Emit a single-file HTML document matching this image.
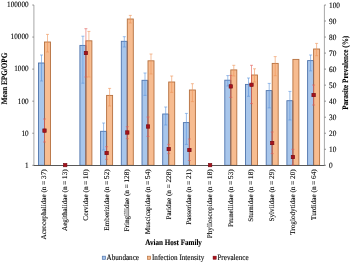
<!DOCTYPE html><html><head><meta charset="utf-8"><title>Chart</title><style>html,body{margin:0;padding:0;background:#fff}svg{display:block}text{text-rendering:geometricPrecision;font-family:"Liberation Serif","Times New Roman",serif;font-size:7.05px;fill:#000;stroke:#000;stroke-width:0.1px}.b{font-weight:bold}</style></head><body>
<svg width="350" height="262" viewBox="0 0 350 262">
<rect width="350" height="262" fill="#fff"/>
<rect x="38.50" y="63.00" width="6.00" height="102.30" fill="#a8c6eb" stroke="#4f74ad" stroke-width="0.9"/>
<rect x="44.50" y="42.00" width="6.00" height="123.30" fill="#f7bc90" stroke="#b5703f" stroke-width="0.9"/>
<path d="M44.50 63.00V165.30" stroke="#856a66" stroke-width="0.9"/>
<path d="M41.50 55.00V81.00M40.00 55.00h3M40.00 81.00h3" stroke="#5b93dc" stroke-width="0.6" fill="none"/>
<path d="M47.50 34.40V52.00M46.00 34.40h3M46.00 52.00h3" stroke="#ee9458" stroke-width="0.6" fill="none"/>
<rect x="79.90" y="45.40" width="6.00" height="119.90" fill="#a8c6eb" stroke="#4f74ad" stroke-width="0.9"/>
<rect x="85.90" y="40.80" width="6.00" height="124.50" fill="#f7bc90" stroke="#b5703f" stroke-width="0.9"/>
<path d="M85.90 45.40V165.30" stroke="#856a66" stroke-width="0.9"/>
<path d="M82.90 36.20V83.20M81.40 36.20h3M81.40 83.20h3" stroke="#5b93dc" stroke-width="0.6" fill="none"/>
<path d="M88.90 31.40V77.00M87.40 31.40h3M87.40 77.00h3" stroke="#ee9458" stroke-width="0.6" fill="none"/>
<rect x="100.60" y="131.30" width="6.00" height="34.00" fill="#a8c6eb" stroke="#4f74ad" stroke-width="0.9"/>
<rect x="106.60" y="95.40" width="6.00" height="69.90" fill="#f7bc90" stroke="#b5703f" stroke-width="0.9"/>
<path d="M106.60 131.30V165.30" stroke="#856a66" stroke-width="0.9"/>
<path d="M103.60 123.00V150.00M102.10 123.00h3M102.10 150.00h3" stroke="#5b93dc" stroke-width="0.6" fill="none"/>
<path d="M109.60 88.40V106.00M108.10 88.40h3M108.10 106.00h3" stroke="#ee9458" stroke-width="0.6" fill="none"/>
<rect x="121.30" y="41.30" width="6.00" height="124.00" fill="#a8c6eb" stroke="#4f74ad" stroke-width="0.9"/>
<rect x="127.30" y="19.00" width="6.00" height="146.30" fill="#f7bc90" stroke="#b5703f" stroke-width="0.9"/>
<path d="M127.30 41.30V165.30" stroke="#856a66" stroke-width="0.9"/>
<path d="M124.30 36.70V47.00M122.80 36.70h3M122.80 47.00h3" stroke="#5b93dc" stroke-width="0.6" fill="none"/>
<path d="M130.30 15.40V23.00M128.80 15.40h3M128.80 23.00h3" stroke="#ee9458" stroke-width="0.6" fill="none"/>
<rect x="142.00" y="80.30" width="6.00" height="85.00" fill="#a8c6eb" stroke="#4f74ad" stroke-width="0.9"/>
<rect x="148.00" y="60.80" width="6.00" height="104.50" fill="#f7bc90" stroke="#b5703f" stroke-width="0.9"/>
<path d="M148.00 80.30V165.30" stroke="#856a66" stroke-width="0.9"/>
<path d="M145.00 73.00V95.40M143.50 73.00h3M143.50 95.40h3" stroke="#5b93dc" stroke-width="0.6" fill="none"/>
<path d="M151.00 54.00V74.00M149.50 54.00h3M149.50 74.00h3" stroke="#ee9458" stroke-width="0.6" fill="none"/>
<rect x="162.70" y="114.00" width="6.00" height="51.30" fill="#a8c6eb" stroke="#4f74ad" stroke-width="0.9"/>
<rect x="168.70" y="82.00" width="6.00" height="83.30" fill="#f7bc90" stroke="#b5703f" stroke-width="0.9"/>
<path d="M168.70 114.00V165.30" stroke="#856a66" stroke-width="0.9"/>
<path d="M165.70 107.00V125.00M164.20 107.00h3M164.20 125.00h3" stroke="#5b93dc" stroke-width="0.6" fill="none"/>
<path d="M171.70 76.00V92.40M170.20 76.00h3M170.20 92.40h3" stroke="#ee9458" stroke-width="0.6" fill="none"/>
<rect x="183.40" y="122.60" width="6.00" height="42.70" fill="#a8c6eb" stroke="#4f74ad" stroke-width="0.9"/>
<rect x="189.40" y="90.00" width="6.00" height="75.30" fill="#f7bc90" stroke="#b5703f" stroke-width="0.9"/>
<path d="M189.40 122.60V165.30" stroke="#856a66" stroke-width="0.9"/>
<path d="M186.40 113.40V144.40M184.90 113.40h3M184.90 144.40h3" stroke="#5b93dc" stroke-width="0.6" fill="none"/>
<path d="M192.40 83.70V101.60M190.90 83.70h3M190.90 101.60h3" stroke="#ee9458" stroke-width="0.6" fill="none"/>
<rect x="224.80" y="80.20" width="6.00" height="85.10" fill="#a8c6eb" stroke="#4f74ad" stroke-width="0.9"/>
<rect x="230.80" y="69.90" width="6.00" height="95.40" fill="#f7bc90" stroke="#b5703f" stroke-width="0.9"/>
<path d="M230.80 80.20V165.30" stroke="#856a66" stroke-width="0.9"/>
<path d="M227.80 75.60V86.00M226.30 75.60h3M226.30 86.00h3" stroke="#5b93dc" stroke-width="0.6" fill="none"/>
<path d="M233.80 65.30V76.00M232.30 65.30h3M232.30 76.00h3" stroke="#ee9458" stroke-width="0.6" fill="none"/>
<rect x="245.50" y="84.40" width="6.00" height="80.90" fill="#a8c6eb" stroke="#4f74ad" stroke-width="0.9"/>
<rect x="251.50" y="75.00" width="6.00" height="90.30" fill="#f7bc90" stroke="#b5703f" stroke-width="0.9"/>
<path d="M251.50 84.40V165.30" stroke="#856a66" stroke-width="0.9"/>
<path d="M248.50 78.00V96.30M247.00 78.00h3M247.00 96.30h3" stroke="#5b93dc" stroke-width="0.6" fill="none"/>
<path d="M254.50 68.80V82.00M253.00 68.80h3M253.00 82.00h3" stroke="#ee9458" stroke-width="0.6" fill="none"/>
<rect x="266.20" y="90.60" width="6.00" height="74.70" fill="#a8c6eb" stroke="#4f74ad" stroke-width="0.9"/>
<rect x="272.20" y="63.40" width="6.00" height="101.90" fill="#f7bc90" stroke="#b5703f" stroke-width="0.9"/>
<path d="M272.20 90.60V165.30" stroke="#856a66" stroke-width="0.9"/>
<path d="M269.20 83.40V107.90M267.70 83.40h3M267.70 107.90h3" stroke="#5b93dc" stroke-width="0.6" fill="none"/>
<path d="M275.20 56.60V75.70M273.70 56.60h3M273.70 75.70h3" stroke="#ee9458" stroke-width="0.6" fill="none"/>
<rect x="286.90" y="100.70" width="6.00" height="64.60" fill="#a8c6eb" stroke="#4f74ad" stroke-width="0.9"/>
<rect x="292.90" y="59.40" width="6.00" height="105.90" fill="#f7bc90" stroke="#b5703f" stroke-width="0.9"/>
<path d="M292.90 100.70V165.30" stroke="#856a66" stroke-width="0.9"/>
<path d="M289.90 91.40V120.00M288.40 91.40h3M288.40 120.00h3" stroke="#5b93dc" stroke-width="0.6" fill="none"/>
<rect x="307.60" y="60.60" width="6.00" height="104.70" fill="#a8c6eb" stroke="#4f74ad" stroke-width="0.9"/>
<rect x="313.60" y="49.00" width="6.00" height="116.30" fill="#f7bc90" stroke="#b5703f" stroke-width="0.9"/>
<path d="M313.60 60.60V165.30" stroke="#856a66" stroke-width="0.9"/>
<path d="M310.60 55.00V70.90M309.10 55.00h3M309.10 70.90h3" stroke="#5b93dc" stroke-width="0.6" fill="none"/>
<path d="M316.60 43.40V55.70M315.10 43.40h3M315.10 55.70h3" stroke="#ee9458" stroke-width="0.6" fill="none"/>
<path d="M33.90 5.00V165.30" stroke="#989898" stroke-width="0.85" fill="none"/>
<path d="M324.40 5.00V165.30" stroke="#989898" stroke-width="0.85" fill="none"/>
<path d="M33.50 165.50H324.80" stroke="#505050" stroke-width="0.95" fill="none"/>
<path d="M33.90 5.00h-1.6" stroke="#777" stroke-width="0.8"/>
<text transform="translate(28.6 7.35) scale(1.02 1.17)" text-anchor="end">100000</text>
<path d="M33.90 37.06h-1.6" stroke="#777" stroke-width="0.8"/>
<text transform="translate(28.6 39.41) scale(1.02 1.17)" text-anchor="end">10000</text>
<path d="M33.90 69.12h-1.6" stroke="#777" stroke-width="0.8"/>
<text transform="translate(28.6 71.47) scale(1.02 1.17)" text-anchor="end">1000</text>
<path d="M33.90 101.18h-1.6" stroke="#777" stroke-width="0.8"/>
<text transform="translate(28.6 103.53) scale(1.02 1.17)" text-anchor="end">100</text>
<path d="M33.90 133.24h-1.6" stroke="#777" stroke-width="0.8"/>
<text transform="translate(28.6 135.59) scale(1.02 1.17)" text-anchor="end">10</text>
<path d="M33.90 165.30h-1.6" stroke="#777" stroke-width="0.8"/>
<text transform="translate(28.6 167.65) scale(1.02 1.17)" text-anchor="end">1</text>
<path d="M324.40 5.00h1.6" stroke="#777" stroke-width="0.8"/>
<text transform="translate(329 7.50) scale(1.04 1.17)">100</text>
<path d="M324.40 21.03h1.6" stroke="#777" stroke-width="0.8"/>
<text transform="translate(329 23.53) scale(1.04 1.17)">90</text>
<path d="M324.40 37.06h1.6" stroke="#777" stroke-width="0.8"/>
<text transform="translate(329 39.56) scale(1.04 1.17)">80</text>
<path d="M324.40 53.09h1.6" stroke="#777" stroke-width="0.8"/>
<text transform="translate(329 55.59) scale(1.04 1.17)">70</text>
<path d="M324.40 69.12h1.6" stroke="#777" stroke-width="0.8"/>
<text transform="translate(329 71.62) scale(1.04 1.17)">60</text>
<path d="M324.40 85.15h1.6" stroke="#777" stroke-width="0.8"/>
<text transform="translate(329 87.65) scale(1.04 1.17)">50</text>
<path d="M324.40 101.18h1.6" stroke="#777" stroke-width="0.8"/>
<text transform="translate(329 103.68) scale(1.04 1.17)">40</text>
<path d="M324.40 117.21h1.6" stroke="#777" stroke-width="0.8"/>
<text transform="translate(329 119.71) scale(1.04 1.17)">30</text>
<path d="M324.40 133.24h1.6" stroke="#777" stroke-width="0.8"/>
<text transform="translate(329 135.74) scale(1.04 1.17)">20</text>
<path d="M324.40 149.27h1.6" stroke="#777" stroke-width="0.8"/>
<text transform="translate(329 151.77) scale(1.04 1.17)">10</text>
<path d="M324.40 165.30h1.6" stroke="#777" stroke-width="0.8"/>
<text transform="translate(329 167.80) scale(1.04 1.17)">0</text>
<path d="M44.50 119.00V142.00M43.00 119.00h3M43.00 142.00h3" stroke="#e25d58" stroke-width="0.6" fill="none"/>
<rect x="42.80" y="128.90" width="3.4" height="3.4" fill="#a8121c" stroke="#700a12" stroke-width="0.6"/>
<text transform="translate(46.40 169.3) rotate(-90)" text-anchor="end" style="font-size:7.2px">Acrocephalidae (n = 37)</text>
<rect x="63.50" y="163.40" width="3.4" height="3.4" fill="#a8121c" stroke="#700a12" stroke-width="0.6"/>
<text transform="translate(67.10 169.3) rotate(-90)" text-anchor="end" style="font-size:7.2px">Aegithalidae (n = 13)</text>
<path d="M85.90 28.70V77.00M84.40 28.70h3M84.40 77.00h3" stroke="#e25d58" stroke-width="0.6" fill="none"/>
<rect x="84.20" y="51.30" width="3.4" height="3.4" fill="#a8121c" stroke="#700a12" stroke-width="0.6"/>
<text transform="translate(87.80 169.3) rotate(-90)" text-anchor="end" style="font-size:7.2px">Corvidae (n = 10)</text>
<path d="M106.60 146.70V159.30M105.10 146.70h3M105.10 159.30h3" stroke="#e25d58" stroke-width="0.6" fill="none"/>
<rect x="104.90" y="151.30" width="3.4" height="3.4" fill="#a8121c" stroke="#700a12" stroke-width="0.6"/>
<text transform="translate(108.50 169.3) rotate(-90)" text-anchor="end" style="font-size:7.2px">Emberizidae (n = 52)</text>
<path d="M127.30 126.70V138.70M125.80 126.70h3M125.80 138.70h3" stroke="#e25d58" stroke-width="0.6" fill="none"/>
<rect x="125.60" y="130.80" width="3.4" height="3.4" fill="#a8121c" stroke="#700a12" stroke-width="0.6"/>
<text transform="translate(129.20 169.3) rotate(-90)" text-anchor="end" style="font-size:7.2px">Fringillidae (n = 128)</text>
<path d="M148.00 117.00V136.40M146.50 117.00h3M146.50 136.40h3" stroke="#e25d58" stroke-width="0.6" fill="none"/>
<rect x="146.30" y="124.80" width="3.4" height="3.4" fill="#a8121c" stroke="#700a12" stroke-width="0.6"/>
<text transform="translate(149.90 169.3) rotate(-90)" text-anchor="end" style="font-size:7.2px">Muscicapidae (n = 54)</text>
<path d="M168.70 144.40V153.60M167.20 144.40h3M167.20 153.60h3" stroke="#e25d58" stroke-width="0.6" fill="none"/>
<rect x="167.00" y="147.30" width="3.4" height="3.4" fill="#a8121c" stroke="#700a12" stroke-width="0.6"/>
<text transform="translate(170.60 169.3) rotate(-90)" text-anchor="end" style="font-size:7.2px">Paridae (n = 228)</text>
<path d="M189.40 139.00V160.50M187.90 139.00h3M187.90 160.50h3" stroke="#e25d58" stroke-width="0.6" fill="none"/>
<rect x="187.70" y="148.30" width="3.4" height="3.4" fill="#a8121c" stroke="#700a12" stroke-width="0.6"/>
<text transform="translate(191.30 169.3) rotate(-90)" text-anchor="end" style="font-size:7.2px">Passeridae (n = 21)</text>
<rect x="208.40" y="163.40" width="3.4" height="3.4" fill="#a8121c" stroke="#700a12" stroke-width="0.6"/>
<text transform="translate(212.00 169.3) rotate(-90)" text-anchor="end" style="font-size:7.2px">Phylloscopidae (n = 18)</text>
<path d="M230.80 75.40V97.40M229.30 75.40h3M229.30 97.40h3" stroke="#e25d58" stroke-width="0.6" fill="none"/>
<rect x="229.10" y="84.70" width="3.4" height="3.4" fill="#a8121c" stroke="#700a12" stroke-width="0.6"/>
<text transform="translate(232.70 169.3) rotate(-90)" text-anchor="end" style="font-size:7.2px">Prunellidae (n = 53)</text>
<path d="M251.50 65.30V103.60M250.00 65.30h3M250.00 103.60h3" stroke="#e25d58" stroke-width="0.6" fill="none"/>
<rect x="249.80" y="83.10" width="3.4" height="3.4" fill="#a8121c" stroke="#700a12" stroke-width="0.6"/>
<text transform="translate(253.40 169.3) rotate(-90)" text-anchor="end" style="font-size:7.2px">Sturnidae (n = 18)</text>
<path d="M272.20 132.00V153.60M270.70 132.00h3M270.70 153.60h3" stroke="#e25d58" stroke-width="0.6" fill="none"/>
<rect x="270.50" y="141.30" width="3.4" height="3.4" fill="#a8121c" stroke="#700a12" stroke-width="0.6"/>
<text transform="translate(274.10 169.3) rotate(-90)" text-anchor="end" style="font-size:7.2px">Sylviidae (n = 29)</text>
<path d="M292.90 149.30V165.00M291.40 149.30h3M291.40 165.00h3" stroke="#e25d58" stroke-width="0.6" fill="none"/>
<rect x="291.20" y="155.30" width="3.4" height="3.4" fill="#a8121c" stroke="#700a12" stroke-width="0.6"/>
<text transform="translate(294.80 169.3) rotate(-90)" text-anchor="end" style="font-size:7.2px">Troglodytidae (n = 20)</text>
<path d="M313.60 85.00V105.00M312.10 85.00h3M312.10 105.00h3" stroke="#e25d58" stroke-width="0.6" fill="none"/>
<rect x="311.90" y="93.30" width="3.4" height="3.4" fill="#a8121c" stroke="#700a12" stroke-width="0.6"/>
<text transform="translate(315.50 169.3) rotate(-90)" text-anchor="end" style="font-size:7.2px">Turdidae (n = 64)</text>
<text class="b" transform="translate(6.9 78.5) rotate(-90) scale(1 1.16)" text-anchor="middle" style="font-size:7.2px">Mean EPG/OPG</text>
<text class="b" transform="translate(347.6 72.8) rotate(-90) scale(1 1.16)" text-anchor="middle" style="font-size:7.2px">Parasite Prevalence (%)</text>
<text class="b" transform="translate(173.6 244.7) scale(1 1.15)" text-anchor="middle" style="font-size:7.1px">Avian Host Family</text>
<rect x="102.3" y="256.2" width="3.1" height="3.1" fill="#a8c6eb" stroke="#4f74ad" stroke-width="0.7"/>
<text transform="translate(106.6 260.1) scale(1 1.15)" style="font-size:7.12px">Abundance</text>
<rect x="147.5" y="256.2" width="3.1" height="3.1" fill="#f7bc90" stroke="#b5703f" stroke-width="0.7"/>
<text transform="translate(152 260.1) scale(1 1.15)" style="font-size:7.12px">Infection Intensity</text>
<rect x="213" y="256.1" width="3.3" height="3.3" fill="#a8121c" stroke="#700a12" stroke-width="0.4"/>
<text transform="translate(217.4 260.1) scale(1 1.15)" style="font-size:7.12px">Prevalence</text>
</svg></body></html>
